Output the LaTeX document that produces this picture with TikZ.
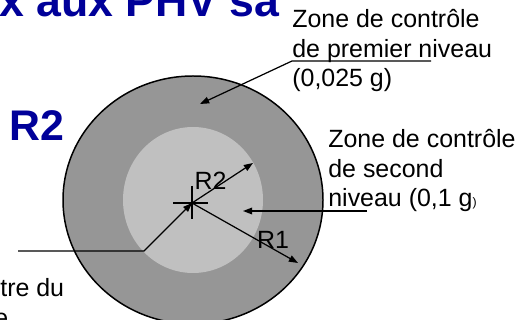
\documentclass[tikz,border=0pt]{standalone}
\usepackage{fontspec}
\setmainfont{Liberation Sans}
\usetikzlibrary{arrows.meta}
\definecolor{slideblue}{RGB}{0,0,153}
\definecolor{ringgray}{RGB}{150,150,150}
\definecolor{coregray}{RGB}{192,192,192}
\newcommand{\lblfont}{\fontsize{14.2pt}{17pt}\selectfont}
\tikzset{zonearrow/.style={-{Triangle[length=5.2pt,width=3.8pt]}, line width=0.7pt}}
\tikzset{zonelabel/.style={anchor=base west, inner sep=0pt, align=left, font=\lblfont}}

\begin{document}
\begin{tikzpicture}[x=0.02cm, y=-0.02cm]
\useasboundingbox (0,0) rectangle (520,320);
\clip (0,0) rectangle (520,320);
% slide title and big label, both cut by the frame
\node[anchor=base west, inner sep=0pt, text=slideblue, font=\fontsize{25.4pt}{30pt}\selectfont\bfseries] (title) at (-1,17) {x aux PHV sa};
\node[anchor=base west, inner sep=0pt, text=slideblue, font=\fontsize{24.4pt}{29pt}\selectfont\bfseries] (bigr) at (9,141) {R2};
% the two zones
\fill[ringgray, draw=black, line width=0.85pt] (193,200) ellipse [x radius=130, y radius=124];
\fill[coregray] (193,200) ellipse [x radius=70, y radius=73];
\coordinate (ctr) at (192,203);
\draw[line width=0.75pt] (173,203) -- (208,203) (192,186) -- (192,219);
% radii
\coordinate (r2end) at (253,163);
\coordinate (r1end) at (298,263);
\draw[zonearrow] (ctr) -- (r2end);
\draw[zonearrow] (ctr) -- (r1end);
\node[inner sep=0pt, font=\lblfont] (rtwo) at (210.5,181) {R2};
\node[inner sep=0pt, font=\lblfont] (rone) at (273,240) {R1};
% labels (base = last line)
\node[zonelabel] (lvlone) at (292,87) {Zone de contrôle\\de premier niveau\\(0,025 g)};
\node[zonelabel] (lvltwo) at (328,207) {Zone de contrôle\\de second\\niveau (0,1 g{\fontsize{7pt}{8pt}\selectfont )}};
\node[zonelabel] (ctrlbl) at (0,326) {tre du\\\hspace*{-3.4pt}e};
% pointers
\coordinate (ulone) at (292,61);
\coordinate (ulonend) at (431,61);
\coordinate (tipone) at (200,104);
\draw[zonearrow] (ulonend) -- (ulone) -- (tipone);
\coordinate (ultwo) at (367,211);
\coordinate (tiptwo) at (243,211);
\draw[zonearrow] (ultwo) -- (tiptwo);
\coordinate (ulctr) at (18,251);
\coordinate (elbow) at (144,251);
\draw[zonearrow] (ulctr) -- (elbow) -- (ctr);
\end{tikzpicture}
\end{document}
